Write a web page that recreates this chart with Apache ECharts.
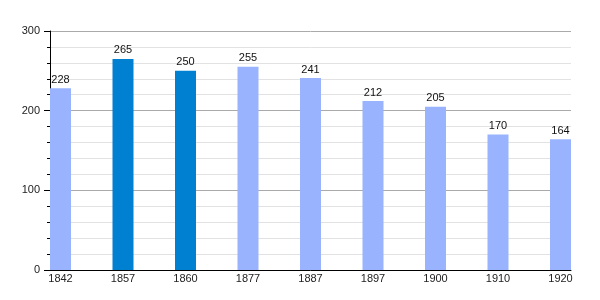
<!DOCTYPE html>
<html><head><meta charset="utf-8">
<script src="https://cdn.jsdelivr.net/npm/echarts@6/dist/echarts.min.js"></script>
<style>html,body{margin:0;padding:0;background:#fff}#c{width:600px;height:300px}</style>
</head><body><div id="c"></div>
<script>
const years = ['1842','1857','1860','1877','1887','1897','1900','1910','1920'];
const population = [228, 265, 250, 255, 241, 212, 205, 170, 164];
const highlighted = [false, true, true, false, false, false, false, false, false];
const yTicks = [0, 100, 200, 300];

const lightColor = '#99b3ff';
const darkColor = '#0080d0';

const chart = echarts.init(document.getElementById('c'), null, {renderer: 'canvas'});
const font = 'Liberation Sans, Arial, sans-serif';
chart.setOption({
  animation: false,
  backgroundColor: '#fff',
  grid: {left: 50, right: 29, top: 31, bottom: 30, containLabel: false},
  xAxis: {
    type: 'value', min: -0.168, max: 8.168,
    axisLine: {show: true, onZero: false, lineStyle: {color: '#000', width: 1}},
    axisTick: {show: false},
    splitLine: {show: false},
    axisLabel: {
      customValues: years.map((_, i) => i),
      formatter: v => years[Math.round(v)],
      color: '#222', fontSize: 11, fontFamily: font, margin: 3
    }
  },
  yAxis: {
    type: 'value', min: 0, max: 300, interval: 100,
    axisLine: {show: true, onZero: false, lineStyle: {color: '#000', width: 1}},
    axisTick: {show: true, length: 6, lineStyle: {color: '#000'}},
    minorTick: {show: true, splitNumber: 5, length: 3, lineStyle: {color: '#000'}},
    splitLine: {show: true, lineStyle: {color: '#aaaaaa', width: 1}},
    minorSplitLine: {show: true, lineStyle: {color: '#e2e2e2', width: 1}},
    axisLabel: {color: '#222', fontSize: 11, fontFamily: font, margin: 10,
      customValues: yTicks}
  },
  series: [{
    type: 'bar',
    barWidth: 21,
    data: population.map((v, i) => ({
      value: [i, v],
      itemStyle: {color: highlighted[i] ? darkColor : lightColor}
    })),
    label: {show: true, position: 'top', distance: 3, color: '#111', fontSize: 11, fontFamily: font,
      formatter: p => p.value[1]}
  }]
});
</script></body></html>
